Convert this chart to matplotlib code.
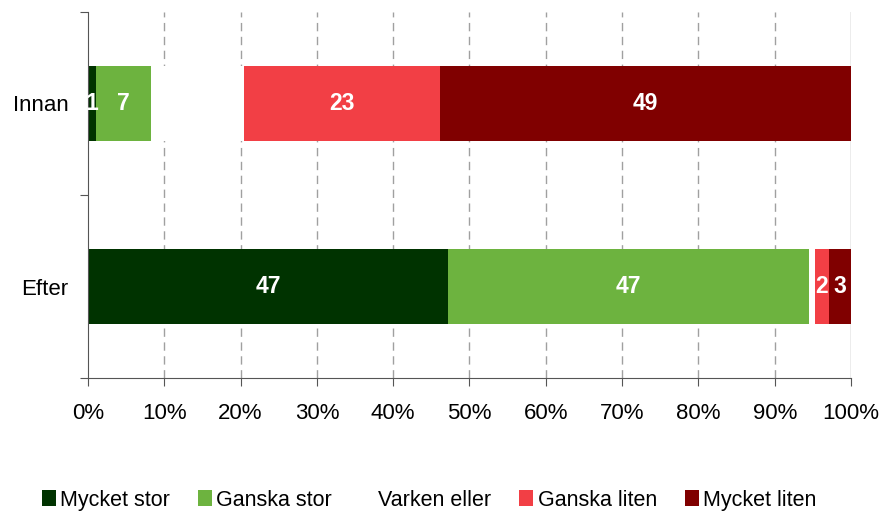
import numpy as np
import matplotlib
matplotlib.use("Agg")
import matplotlib.pyplot as plt

plt.rcParams["font.family"] = ["Liberation Sans", "DejaVu Sans"]

categories = ["Efter", "Innan"]
series = ["Mycket stor", "Ganska stor", "Varken eller", "Ganska liten", "Mycket liten"]
colors = ["#003300", "#6DB33F", "#FFFFFF", "#F23F45", "#800000"]

# share of each answer in percent (bar widths), per category: Efter, Innan
shares = {
    "Mycket stor":  [47.2, 1.1],
    "Ganska stor":  [47.3, 7.2],
    "Varken eller": [0.8, 12.2],
    "Ganska liten": [1.8, 25.7],
    "Mycket liten": [2.9, 53.8],
}
# numbers printed on the segments
labels = {
    "Mycket stor":  ["47", "1"],
    "Ganska stor":  ["47", "7"],
    "Varken eller": ["", ""],
    "Ganska liten": ["2", "23"],
    "Mycket liten": ["3", "49"],
}

fig = plt.figure(figsize=(8.85, 5.12), dpi=100)
ax = fig.add_axes([0.0994, 0.2617, 0.8622, 0.7149])

y = np.arange(len(categories))
left = np.zeros(len(categories))
for name, col in zip(series, colors):
    vals = np.array(shares[name])
    bars = ax.barh(y, vals, left=left, height=0.41, color=col, label=name, zorder=2)
    ax.bar_label(bars, labels=labels[name], label_type="center", color="white",
                 fontsize=16.5, fontweight="bold")
    left += vals

ax.set_xlim(0, 100)
ax.set_ylim(-0.5, 1.5)
ax.set_xticks(np.arange(0, 101, 10))
ax.set_xticklabels([f"{v}%" for v in range(0, 101, 10)], fontsize=16)
ax.tick_params(axis="x", length=6, pad=12, color="#555555")

# category boundaries as major ticks, names on minor ticks
ax.set_yticks([-0.5, 0.5, 1.5])
ax.set_yticklabels([])
ax.set_yticks(y, minor=True)
ax.set_yticklabels(categories, minor=True, fontsize=16)
ax.tick_params(axis="y", which="major", length=6, color="#555555")
ax.tick_params(axis="y", which="minor", length=0, pad=14)

for xv in range(10, 101, 10):
    ls = "-" if xv == 100 else (0, (6, 4))
    ax.axvline(xv, color="#A0A0A0", lw=1, ls=ls, zorder=1)

for s in ["top", "right"]:
    ax.spines[s].set_visible(False)
for s in ["left", "bottom"]:
    ax.spines[s].set_color("#555555")

fig.legend(loc="lower center", bbox_to_anchor=(0.485, -0.035), ncol=5, frameon=False,
           fontsize=15.5, handlelength=0.65, handleheight=0.7, handletextpad=0.2,
           columnspacing=1.3)

fig.savefig("out.png", dpi=100)
